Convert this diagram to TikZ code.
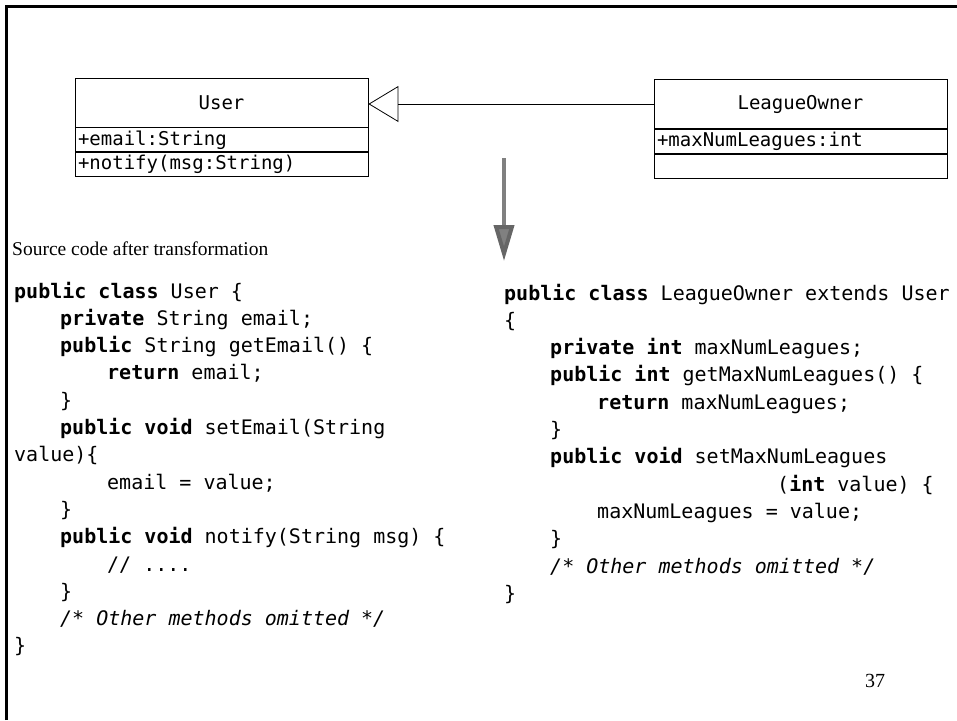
\documentclass[tikz,border=0pt]{standalone}
\usepackage{fontspec}
\setmainfont{Liberation Serif}
\setmonofont{DejaVu Sans Mono}
\usetikzlibrary{positioning,arrows.meta}

\newcommand{\kw}[1]{\textbf{#1}}

\begin{document}
\begin{tikzpicture}[x=1pt,y=-1pt,
    classname/.style={draw,line width=0.8pt,minimum width=293pt,minimum height=49pt,inner sep=0pt,
      font=\fontsize{19}{22}\selectfont\ttfamily},
    classpart/.style={draw,line width=0.8pt,minimum width=293pt,minimum height=24pt,text width=287pt,
      inner xsep=3pt,inner ysep=0pt,align=left,font=\fontsize{19}{22}\selectfont\ttfamily},
    codeline/.style={anchor=base west,inner sep=0pt,font=\fontsize{20}{24}\selectfont\ttfamily}]
  \useasboundingbox (0,0) rectangle (957,720);
  \draw[line width=3pt] (6,720) -- (6,6) -- (957,6);

  % class diagram
  \node[classname] (usrname) at (221.5,102.5) {User};
  \node[classpart,below=0pt of usrname] (usrattr) {+email:String};
  \node[classpart,below=0pt of usrattr] (usrops) {+notify(msg:String)};
  \node[classname] (ownname) at (800.5,104) {LeagueOwner};
  \node[classpart,below=0pt of ownname] (ownattr) {+maxNumLeagues:int};
  \node[classpart,below=0pt of ownattr] (ownops) {};
  \draw[line width=0.8pt,-{Triangle[open,length=30pt,width=36pt]}] (ownname.west) -- (ownname.west -| usrname.east);

  % transformation arrow
  \coordinate (arrtop) at (504,158);
  \coordinate (arrtip) at (504,261);
  \draw[line width=4pt,black!50,-{Triangle[length=36pt,width=20pt,fill=black!50,color=black!60]}] (arrtop) -- (arrtip);

  \node[anchor=base west,inner sep=0pt,font=\fontsize{19.5}{22}\selectfont] (caption) at (12,255) {Source code after transformation};

  % User
  \node[codeline] (u1) at (14,298) {\kw{public class} User \{};
  \node[codeline] (u2) at (60,325.3) {\kw{private} String email;};
  \node[codeline] (u3) at (60,352.6) {\kw{public} String getEmail() \{};
  \node[codeline] (u4) at (107,379.9) {\kw{return} email;};
  \node[codeline] (u5) at (60,407.2) {\}};
  \node[codeline] (u6) at (60,434.5) {\kw{public void} setEmail(String};
  \node[codeline] (u7) at (14,461.8) {value)\{};
  \node[codeline] (u8) at (107,489.1) {email = value;};
  \node[codeline] (u9) at (60,516.4) {\}};
  \node[codeline] (u10) at (60,543.7) {\kw{public void} notify(String msg) \{};
  \node[codeline] (u11) at (107,571) {// ....};
  \node[codeline] (u12) at (60,598.3) {\}};
  \node[codeline] (u13) at (60,625.6) {\textit{/* Other methods omitted */}};
  \node[codeline] (u14) at (14,652.9) {\}};

  % LeagueOwner
  \node[codeline] (o1) at (504,300) {\kw{public class} LeagueOwner extends User};
  \node[codeline] (o2) at (504,327.3) {\{};
  \node[codeline] (o3) at (550,354.6) {\kw{private int} maxNumLeagues;};
  \node[codeline] (o4) at (550,381.9) {\kw{public int} getMaxNumLeagues() \{};
  \node[codeline] (o5) at (597,409.2) {\kw{return} maxNumLeagues;};
  \node[codeline] (o6) at (550,436.5) {\}};
  \node[codeline] (o7) at (550,463.8) {\kw{public void} setMaxNumLeagues};
  \node[codeline] (o8) at (777,491.1) {(\kw{int} value) \{};
  \node[codeline] (o9) at (597,518.4) {maxNumLeagues = value;};
  \node[codeline] (o10) at (550,545.7) {\}};
  \node[codeline] (o11) at (550,573) {\textit{/* Other methods omitted */}};
  \node[codeline] (o12) at (504,600.3) {\}};

  \node[anchor=base,inner sep=0pt,font=\fontsize{20}{22}\selectfont] (page) at (875,687) {37};
\end{tikzpicture}
\end{document}
